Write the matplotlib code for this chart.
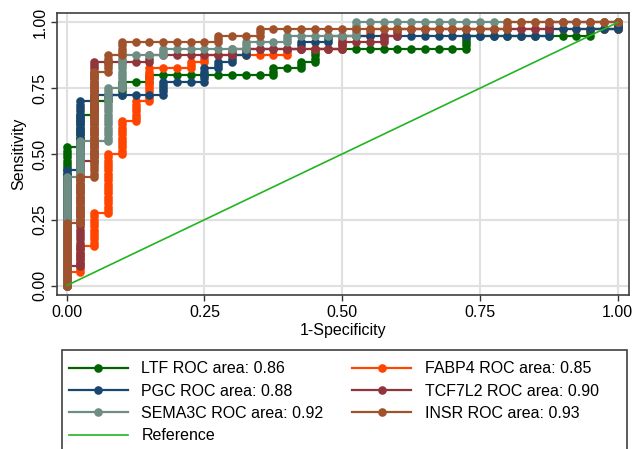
import numpy as np
import matplotlib
matplotlib.use("Agg")
import matplotlib.pyplot as plt
from matplotlib.lines import Line2D
from matplotlib.patches import Rectangle

plt.rcParams['font.family'] = ['Liberation Sans', 'DejaVu Sans']
plt.rcParams['font.size'] = 11.5

# 40 controls, 80 cases; each curve stored as (false-positive count, true-positive count)
# at the points where the staircase goes up
N_NEG = 40
N_POS = 80

ltf_fp = [0, 1, 2, 3, 4, 6, 15, 17, 18, 29, 38, 40]
ltf_tp = [42, 52, 56, 58, 62, 64, 66, 68, 72, 76, 78, 80]

fabp4_fp = [0, 1, 2, 3, 4, 5, 6, 9, 10, 16, 20, 22, 40]
fabp4_tp = [4, 12, 22, 40, 50, 56, 66, 68, 70, 72, 76, 78, 80]

pgc_fp = [0, 1, 2, 7, 10, 11, 12, 13, 17, 19, 35, 40]
pgc_tp = [35, 56, 58, 62, 66, 68, 70, 72, 74, 76, 78, 80]

tcf7l2_fp = [0, 1, 2, 6, 12, 20, 23, 24, 35]
tcf7l2_tp = [6, 38, 68, 70, 72, 74, 76, 78, 80]

sema3c_fp = [0, 1, 3, 4, 7, 13, 16, 21]
sema3c_tp = [33, 44, 60, 70, 72, 74, 76, 80]

insr_fp = [0, 1, 2, 3, 4, 11, 14, 32]
insr_tp = [19, 33, 65, 70, 74, 76, 78, 80]

labels = ['LTF ROC area: 0.86', 'FABP4 ROC area: 0.85', 'PGC ROC area: 0.88',
          'TCF7L2 ROC area: 0.90', 'SEMA3C ROC area: 0.92', 'INSR ROC area: 0.93']
colors = ['#006400', '#ff4500', '#1a476f', '#90353b', '#6e8e84', '#a0522d']
ref_color = '#22b422'


def roc_points(fp_steps, tp_steps):
    # one point per cutoff: walk right one control at a time, up one case at a time
    xs, ys = [0], [0]
    k, tp = 0, 0
    for kk, top in zip(fp_steps, tp_steps):
        for j in range(k + 1, kk + 1):
            xs.append(j); ys.append(tp)
        for t in range(tp + 1, top + 1):
            xs.append(kk); ys.append(t)
        k, tp = kk, top
    for j in range(k + 1, N_NEG + 1):
        xs.append(j); ys.append(tp)
    return np.array(xs) / N_NEG, np.array(ys) / N_POS


curves = [(ltf_fp, ltf_tp), (fabp4_fp, fabp4_tp), (pgc_fp, pgc_tp),
          (tcf7l2_fp, tcf7l2_tp), (sema3c_fp, sema3c_tp), (insr_fp, insr_tp)]

fig = plt.figure(figsize=(6.34, 4.49), dpi=100)
ax = fig.add_axes([57/634, 1 - 295/449, (628.7 - 57)/634, (295 - 12.7)/449])

handles = []
for (fp, tp), lab, c in zip(curves, labels, colors):
    x, y = roc_points(fp, tp)
    ax.plot(x, y, color=c, lw=1.6, marker='o', markersize=6.2, markeredgewidth=0)
    handles.append(Line2D([], [], color=c, lw=1.6, marker='o', markersize=6.2,
                          markeredgewidth=0, label=lab))
ax.plot([0, 1], [0, 1], color=ref_color, lw=1.2)
ref_handle = Line2D([], [], color=ref_color, lw=1.2, label='Reference')

ax.set_xlim(-0.0176, 1.02)
ax.set_ylim(-0.036, 1.037)
ticks = [0, 0.25, 0.5, 0.75, 1.0]
ax.set_xticks(ticks)
ax.set_yticks(ticks)
ax.set_xticklabels(['0.00', '0.25', '0.50', '0.75', '1.00'])
ax.set_yticklabels(['0.00', '0.25', '0.50', '0.75', '1.00'], rotation=90, va='center')
ax.grid(True, color='#e0e0e0', lw=1.5)
ax.set_axisbelow(True)
ax.tick_params(direction='out', length=4, width=1, color='#333333', pad=3)
for s in ax.spines.values():
    s.set_color('#404040')
    s.set_linewidth(1.2)
ax.set_xlabel('1-Specificity', labelpad=2)
ax.set_ylabel('Sensitivity', labelpad=4)

# legend: column-major order so that it reads row by row
leg_handles = [handles[0], handles[2], handles[4], ref_handle,
               handles[1], handles[3], handles[5]]
leg = fig.legend(handles=leg_handles, loc='upper left',
                 bbox_to_anchor=(64/634, 1 - 356.5/449), ncol=2, frameon=False,
                 handlelength=3.7, handletextpad=0.85, columnspacing=1.8,
                 labelspacing=0.46, borderpad=0.3, borderaxespad=0)
fig.patches.append(Rectangle((62/634, -0.02), (627 - 62)/634, (1 - 350/449) + 0.02,
                             transform=fig.transFigure, fill=False,
                             edgecolor='#404040', lw=1.2))

fig.savefig('out.png', dpi=100)
